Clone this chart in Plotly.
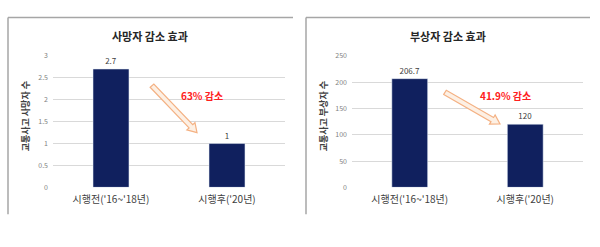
import math
import plotly.graph_objects as go

W, H = 600, 247
FONT = "Noto Sans CJK KR"

categories = ["시행전('16~'18년)", "시행후('20년)"]
deaths = [2.7, 1]
injuries = [206.7, 120]
titles = ["사망자 감소 효과", "부상자 감소 효과"]
y_titles = ["교통사고 사망자 수", "교통사고 부상자 수"]
changes = ["63% 감소", "41.9% 감소"]
y_ranges = [[0, 3], [0, 250]]
y_dticks = [0.5, 50]

BAR = "#10205e"

def px(x):
    return x / W

def py(y):
    return 1 - y / H

fig = go.Figure()
fig.add_trace(go.Bar(x=categories, y=deaths, xaxis="x", yaxis="y",
                     marker_color=BAR, width=0.31,
                     text=[f"{v:g}" for v in deaths], textposition="outside",
                     textfont=dict(size=8, color="#404040"), cliponaxis=False))
fig.add_trace(go.Bar(x=categories, y=injuries, xaxis="x2", yaxis="y2",
                     marker_color=BAR, width=0.31,
                     text=[f"{v:g}" for v in injuries], textposition="outside",
                     textfont=dict(size=8, color="#404040"), cliponaxis=False))

ydom = [py(189), py(52)]
common_y = dict(showgrid=True, gridcolor="#d9d9d9", gridwidth=1, zeroline=False,
                showline=False, ticks="", tickfont=dict(size=7, color="#7f7f7f"),
                ticklabelstandoff=4, domain=ydom)
common_x = dict(showgrid=False, zeroline=False, showline=False, ticks="",
                tickfont=dict(size=10, color="#404040"), ticklabelstandoff=5,
                range=[-0.5, 1.5])

fig.update_layout(
    width=W, height=H, margin=dict(l=0, r=0, t=0, b=0),
    paper_bgcolor="white", plot_bgcolor="white", showlegend=False,
    font=dict(family=FONT),
    xaxis=dict(domain=[px(53), px(285)], anchor="y", **common_x),
    yaxis=dict(range=y_ranges[0], dtick=y_dticks[0], anchor="x", **common_y),
    xaxis2=dict(domain=[px(352), px(583)], anchor="y2", **common_x),
    yaxis2=dict(range=y_ranges[1], dtick=y_dticks[1], anchor="x2", **common_y),
)

shapes = []
annotations = []

# panel borders (top + left)
for (x0, x1) in [(8, 293), (306, 590)]:
    shapes.append(dict(type="line", xref="paper", yref="paper",
                       x0=px(x0), x1=px(x1), y0=py(12), y1=py(12),
                       line=dict(color="#a6a6a6", width=1.5)))
    shapes.append(dict(type="line", xref="paper", yref="paper",
                       x0=px(x0), x1=px(x0), y0=py(12), y1=py(217),
                       line=dict(color="#a6a6a6", width=1.5)))

def block_arrow(p0, p1, shaft=5, head_w=11, head_l=9):
    (x0, y0), (x1, y1) = p0, p1
    dx, dy = x1 - x0, y1 - y0
    L = math.hypot(dx, dy)
    ux, uy = dx / L, dy / L
    nx, ny = -uy, ux
    bx, by = x1 - ux * head_l, y1 - uy * head_l
    pts = [
        (x0 + nx * shaft / 2, y0 + ny * shaft / 2),
        (bx + nx * shaft / 2, by + ny * shaft / 2),
        (bx + nx * head_w / 2, by + ny * head_w / 2),
        (x1, y1),
        (bx - nx * head_w / 2, by - ny * head_w / 2),
        (bx - nx * shaft / 2, by - ny * shaft / 2),
        (x0 - nx * shaft / 2, y0 - ny * shaft / 2),
    ]
    return "M " + " L ".join(f"{px(x):.5f},{py(y):.5f}" for x, y in pts) + " Z"

for p0, p1 in [((152, 83), (197, 132)), ((445, 90), (500, 123))]:
    shapes.append(dict(type="path", xref="paper", yref="paper",
                       path=block_arrow(p0, p1),
                       fillcolor="#fdf0e4", line=dict(color="#f4b183", width=1.2)))

def note(x, y, text, size, color, angle=0):
    annotations.append(dict(x=px(x), y=py(y), xref="paper", yref="paper",
                            xanchor="center", yanchor="middle",
                            text=text, showarrow=False, textangle=angle,
                            font=dict(size=size, color=color)))

for cx, txt in [(150, titles[0]), (448, titles[1])]:
    note(cx, 31, f"<b>{txt}</b>", 11, "#262626")

for cx, txt in [(25, y_titles[0]), (323, y_titles[1])]:
    note(cx, 115, f"<b>{txt}</b>", 9, "#404040", -90)

for cx, txt in [(202, changes[0]), (505, changes[1])]:
    note(cx, 93, f"<b>{txt}</b>", 10, "#ff2020")

fig.update_layout(shapes=shapes, annotations=annotations)
fig.write_html("out.html")
